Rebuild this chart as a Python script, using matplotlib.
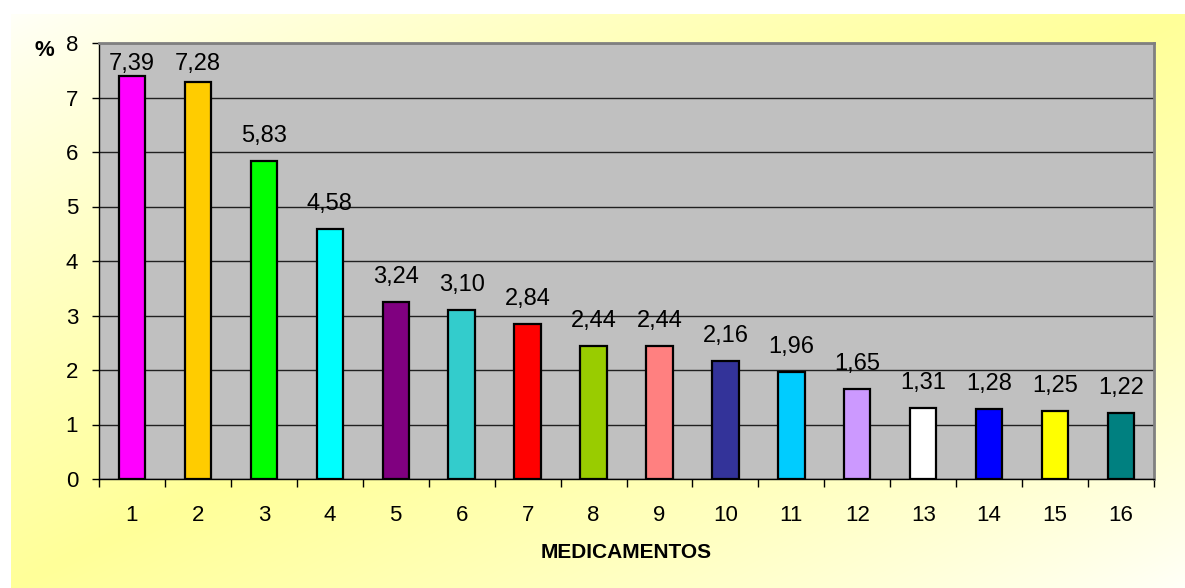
import numpy as np
import matplotlib
matplotlib.use("Agg")
import matplotlib.pyplot as plt
from matplotlib.ticker import FixedLocator, NullFormatter

plt.rcParams['font.family'] = ['Liberation Sans', 'DejaVu Sans']

categories = [str(i) for i in range(1, 17)]
values = [7.39, 7.28, 5.83, 4.58, 3.24, 3.10, 2.84, 2.44, 2.44, 2.16, 1.96, 1.65, 1.31, 1.28, 1.25, 1.22]
labels = ["7,39", "7,28", "5,83", "4,58", "3,24", "3,10", "2,84", "2,44", "2,44", "2,16",
          "1,96", "1,65", "1,31", "1,28", "1,25", "1,22"]
colors = ["#FF00FF", "#FFCC00", "#00FF00", "#00FFFF", "#800080", "#33CCCC", "#FF0000", "#99CC00",
          "#FF8080", "#333399", "#00CCFF", "#CC99FF", "#FFFFFF", "#0000FF", "#FFFF00", "#008080"]
yticks = [0, 1, 2, 3, 4, 5, 6, 7, 8]

W, H = 1185, 588
DPI = 100
fig = plt.figure(figsize=(W / DPI, H / DPI), dpi=DPI)
fig.patch.set_facecolor("white")

# diagonal pale-yellow gradient panel behind the chart
bg = fig.add_axes([11 / W, 0, 1 - 11 / W, 1 - 14 / H])
bg.set_axis_off()
ny, nx = 200, 400
u = np.linspace(0, 1, nx)[None, :]
v = np.linspace(0, 1, ny)[:, None]
t = (u + v) / 2
s = 1 - np.abs(2 * t - 1)
s = 0.06 + 0.94 * s ** 0.8
white = np.array([1.0, 1.0, 1.0])
yellow = np.array([1.0, 1.0, 0.6])
img = white[None, None, :] * (1 - s[..., None]) + yellow[None, None, :] * s[..., None]
bg.imshow(img, aspect="auto", extent=[0, 1, 0, 1], interpolation="bilinear")
bg.set_xlim(0, 1)
bg.set_ylim(0, 1)

ax = fig.add_axes([99 / W, 1 - 479 / H, (1154 - 99) / W, (479 - 43) / H])
ax.set_facecolor("#C0C0C0")

x = np.arange(1, len(values) + 1)
ax.set_axisbelow(True)
ax.yaxis.grid(True, color="#202020", linewidth=1.0)
bars = ax.bar(x, values, width=0.4, color=colors, edgecolor="black", linewidth=1.6, zorder=3)

ax.set_xlim(0.5, len(values) + 0.5)
ax.set_ylim(0, 8)

# value labels sit above each bar; near the top they are kept inside the plot area
gap_px = 19
top_room_px = 27
axes_h_px = ax.get_position().height * H
ymin, ymax = ax.get_ylim()
for xi, val, lab in zip(x, values, labels):
    room = (ymax - val) / (ymax - ymin) * axes_h_px - top_room_px
    off_px = min(gap_px, room)
    ax.annotate(lab, (xi, val), xytext=(0, off_px * 72 / DPI), textcoords="offset points",
                ha="center", va="baseline", fontsize=17, color="black", zorder=4)

ax.set_yticks(yticks)
ax.tick_params(axis="y", length=5, width=1, pad=10, labelsize=16, colors="black")

# category labels centred under bars, tick marks between categories
ax.set_xticks(x)
ax.set_xticklabels(categories)
ax.tick_params(axis="x", which="major", length=0, pad=19, labelsize=16)
ax.xaxis.set_minor_locator(FixedLocator(np.arange(0.5, len(values) + 1, 1.0)))
ax.xaxis.set_minor_formatter(NullFormatter())
ax.tick_params(axis="x", which="minor", length=6, width=1, color="black")

for side in ("top", "right"):
    ax.spines[side].set_color("#808080")
    ax.spines[side].set_linewidth(2)
for side in ("left", "bottom"):
    ax.spines[side].set_color("black")
    ax.spines[side].set_linewidth(1)

ax.set_xlabel("MEDICAMENTOS", fontsize=15, fontweight="bold", labelpad=12)
fig.text(44 / W, 1 - 50 / H, "%", fontsize=16, fontweight="bold", ha="center", va="center")

fig.savefig("out.png", dpi=DPI)
